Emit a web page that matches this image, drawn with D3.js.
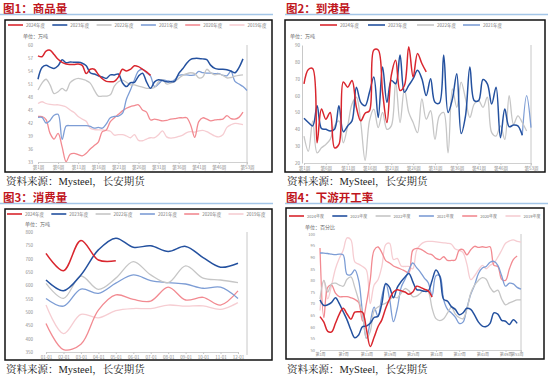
<!DOCTYPE html>
<html><head><meta charset="utf-8">
<script src="https://cdn.jsdelivr.net/npm/d3@7"></script>
<style>body{margin:0;background:#fff}svg{display:block}</style>
</head><body><svg id="c" width="550" height="379"></svg>
<script>
// ---------- shared ----------
const years = ["2024年度","2023年度","2022年度","2021年度","2020年度","2019年度"];
const colors = ["#d9262e","#24519f","#c6c6c6","#7d9dd5","#f28a91","#f6cdd2"];

// ---------- 图1 商品量 (weekly, 万吨) ----------
const p1Weeks = [1,6,11,16,21,26,31,36,41,46,53];
const p1Y = [33,36,39,42,45,48,51,54,57,60];
const p1_2024 = [57.5,57.3,58.6,58.8,57.8,56.7,56.0,55.6,55.5,55.5,55.6,55.3,53.4,54.4,54.4,53.2,52.2,51.6,51.5,51.6,52.6,54.4,54.0,54.4,55.2,55.0,54.4,53.8,53.0];
const p1_2023 = [52.1,54.8,55.3,54.9,54.6,55.2,56.6,55.9,56.1,56.0,56.0,55.8,55.2,53.6,53.3,52.9,52.6,52.3,53.1,53.1,53.3,51.3,50.4,51.3,51.4,52.8,53.5,51.5,50.0,51.5,52.0,51.8,51.5,51.5,51.6,53.4,54.5,55.8,56.7,56.9,56.9,56.8,56.6,55.3,54.6,54.4,54.4,54.3,54.0,53.6,54.8,56.8];
const p1_2022 = [49.6,51.2,52.1,50.8,48.8,49.2,50.0,49.4,51.3,52.0,52.3,52.1,51.8,51.2,49.6,48.2,48.2,48.2,48.5,50.5,51.5,51.9,51.4,50.8,50.8,50.5,50.3,50.0,50.0,50.2,51.5,52.0,51.0,51.2,51.6,52.3,53.0,53.4,53.6,53.4,52.4,52.6,54.4,53.6,53.1,53.3,53.0,52.4,52.5,52.8,53.0,53.1];
const p1_2021 = [43.3,43.3,42.0,42.6,43.8,44.0,38.2,41.3,41.4,41.4,41.4,41.4,41.4,41.2,40.8,41.0,40.8,41.8,43.2,43.5,43.6,44.2,47.5,49.6,52.0,54.0,54.4,53.6,52.8,50.4,51.0,51.9,51.8,51.6,52.0,53.0,53.1,53.1,53.0,53.1,53.9,53.6,53.5,53.5,53.4,53.4,53.0,52.9,53.9,51.6,51.0,50.4,49.5];
const p1_2020 = [43.5,43.5,42.8,39.6,38.3,39.6,36.5,33.1,34.8,35.0,34.7,34.4,35.0,36.0,36.8,37.6,40.0,40.4,42.3,43.2,44.0,44.8,45.4,45.8,46.0,46.2,45.0,44.5,42.7,42.9,42.7,42.5,42.6,42.9,43.0,43.2,43.2,43.2,41.5,38.7,42.3,43.2,42.9,42.5,42.7,42.8,42.9,43.7,43.0,42.9,43.3,44.5];
const p1_2019 = [46.5,46.9,46.5,46.3,46.2,46.2,46.0,45.7,45.0,44.4,43.5,42.9,42.4,40.8,40.5,40.4,40.4,40.3,40.1,39.2,39.3,39.3,39.0,38.6,39.3,38.0,37.9,38.3,38.6,38.6,39.3,40.2,38.8,38.5,38.6,38.9,39.2,39.8,40.0,39.9,40.2,40.3,40.0,39.5,39.0,38.8,39.3,41.0,41.6,41.9,41.8,41.6];

// ---------- 图2 到港量 (weekly, 万吨) ----------
const p2Weeks = [1,6,11,16,21,26,31,36,41,46,53];
const p2Y = [20,30,40,50,60,70,80,90];
const p2_2024 = [67,75.5,76,32,52,46,50,29,31,68,65,69,53,45,49.5,51,87,87,62,44,72,81,63,66,89,71,85,79,74];
const p2_2023 = [46.5,44,42,54,40.5,40,39,40,54,38.5,42,45,65,56,54,62,71,47,77,56,69,67,84,62,66,70,75,70,60,70,56,55.5,84,50,58,73,37.5,48,77,57,57,69.5,67,55,65,35,52,41.5,42.5,42,36.5];
const p2_2022 = [36,27,45,26,29,31,34,42,45,32,42,55,59,44,21.5,45,52,41,50,40,42,68,44,64,50,44,38,58,46,51,34,48,50,26,64,53,68,58,47,55,57,53,59,38,36,42,34,60,43,48,44,39];
const p2_2021Start = 51;
const p2_2021 = [36.5,60,41];

// ---------- 图3 消费量 (monthly, 万吨) ----------
const p3Months = [1,2,3,4,5,6,7,8,9,10,11,12];
const p3Y = [350,400,450,500,550,600,650,700,750,800];
const p3_2024 = [720,655,768,695,692];
const p3_2023 = [620,580,639,733,777,743,748,727,746,704,668,683];
const p3_2022 = [607,551,635,585,627,689,639,610,673,627,620,610];
const p3_2021 = [551,522,586,570,608,639,618,610,605,589,593,551];
const p3_2020 = [457,359,379,507,564,547,541,593,545,555,526,579];
const p3_2019 = [526,419,491,478,505,513,513,526,522,523,510,535];

// ---------- 图4 下游开工率 (weekly, %) ----------
const p4Weeks = [1,7,13,19,25,31,37,43,49,53];
const p4Y = [50,55,60,65,70,75,80,85,90,95,100];
const p4_2024 = [64.4,62,58,57.8,61.5,65.5,68,65.5,63.3,66.3,66.5,66.3,59,51.5,55.5,60,63,68,72,75,76,75.5,75,74,75,77.5,77,76.2,75.5,72.8];
const p4_2023 = [71.6,69.2,69.5,70.5,72.5,70,66.5,63,58.6,55.3,56.5,60.1,60.3,61.5,64,64.5,70,78.5,77,72.5,77,79.5,81.5,83,79.5,76,75.8,75.3,75.5,80,84.5,81.7,71.8,71,68.7,67.5,65.2,66,68,67.5,65,62,60.3,60.1,61.5,66,65.5,62.8,62.4,61,63,61.5];
const p4_2022 = [72,80,75,78.5,78.8,78,77.5,80.5,81.5,77,71.5,66,55,58,67,68.5,69.5,70.2,71.5,73,72.5,74.5,76.5,75.5,73,73.2,74.5,76,75.2,68,63.5,62.7,63.5,66,68.5,65.5,64,63.5,67.5,74.5,78,80,81.2,80.5,77,75,75.8,72,69.5,70.3,71,71.6,71.6];
const p4_2021 = [91.8,91.8,91.6,91.3,91.1,91.3,91.0,82.5,82.5,84.5,80,66,55,62,68.5,64.5,73,78.8,72,62.2,68,77,80.5,84.5,87.5,85.5,83.5,81,79,73.5,82,82,71.6,67.5,66,64.2,61.5,62,68,74,78,83,85.3,86,87.8,88.2,86.5,82,77.5,78.8,78.5,77,76.2];
const p4_2020 = [94,64,77,78,74.5,73,73,73,72.5,71.8,70.5,62.5,70,80.3,93,94.4,92,88.5,87.5,86.2,85.5,84.8,84,83.3,93,93.8,93.5,92.5,91.5,91,89.5,89,90.2,88.6,88.6,88.8,93,93.3,91,93.2,94.7,94.2,94.5,94.2,94.5,86.5,86,80.5,80,85,89,90.5];
const p4_2019 = [67,80,72,78,85,89.5,93,98.3,97.5,88,87,86,84.5,70,78,80.3,86,95.4,96,89,89.5,86.2,86,86,85,93,95.4,96.5,96.8,96.8,96.6,96.4,96.2,96,95.6,93.5,93,92,87,80.3,82,84.5,86.5,85,86.5,87.5,90,93,96,97,97.5,96.8,96.5];

// ---------- drawing ----------
const svg = d3.select("#c");
const CJK = "'Noto Sans CJK SC','Noto Sans',sans-serif";
const SRC = "'Liberation Serif','Noto Serif CJK SC','Noto Sans CJK SC',serif";
const weekFmt = w => `第${w}周`;
const monthFmt = m => `${String(m).padStart(2,"0")}-01`;

function drawPanel(c){
  const g = svg.append("g");
  // title
  g.append("text").attr("x",c.tx).attr("y",c.ty).text(c.title)
    .attr("font-family",CJK).attr("font-weight","bold").attr("font-size",11.5).attr("fill","#c0161d");
  g.append("line").attr("x1",c.lx0).attr("x2",c.lx1).attr("y1",c.ly).attr("y2",c.ly)
    .attr("stroke","#a4c6e8").attr("stroke-width",1.5);
  // frame
  const [bx0,by0,bx1,by1] = c.box;
  g.append("rect").attr("x",bx0).attr("y",by0).attr("width",bx1-bx0).attr("height",by1-by0)
    .attr("fill","#fff").attr("stroke","#111").attr("stroke-width",1.5);
  // source
  g.append("text").attr("x",c.sx).attr("y",c.sy).text(c.source)
    .attr("font-family",SRC).attr("font-size",10.5).attr("fill","#222");
  // scales
  const x = d3.scaleLinear().domain(c.xDomain).range(c.xRange);
  const y = d3.scaleLinear().domain(c.yDomain).range(c.yRange);
  // y labels
  const ya = g.append("g").attr("transform",`translate(${c.yAxisX},0)`)
    .call(d3.axisLeft(y).tickValues(c.yTicks).tickSize(0).tickPadding(2));
  ya.select(".domain").attr("stroke", c.leftLine ? "#c8c8c8" : "none");
  ya.selectAll("text").attr("font-family",CJK).attr("font-size",c.fs).attr("fill","#8a8a8a");
  // x axis
  const xa = g.append("g").attr("transform",`translate(0,${c.yRange[0]})`)
    .call(d3.axisBottom(x).tickValues(c.xTicks).tickFormat(c.xFmt).tickSize(2).tickPadding(1.5));
  xa.select(".domain").attr("stroke","#d0d0d0");
  xa.selectAll(".tick line").attr("stroke","#c8c8c8");
  xa.selectAll("text").attr("font-family",CJK).attr("font-size",c.fs).attr("fill","#8a8a8a");
  if (c.lastLabelEnd) {
    xa.selectAll(".tick text").filter(d => d === c.xTicks[c.xTicks.length-1])
      .attr("text-anchor","end").attr("dx",2);
  }
  // right axis line
  g.append("line").attr("x1",c.rightX).attr("x2",c.rightX).attr("y1",c.yRange[1]).attr("y2",c.yRange[0]+3)
    .attr("stroke","#c8c8c8").attr("stroke-width",1);
  // unit
  g.append("text").attr("x",c.ux).attr("y",c.uy).text(c.unit)
    .attr("font-family",CJK).attr("font-size",5).attr("fill","#666");
  // series
  const line = d3.line().defined(d=>d!=null).x(d=>x(d.k)).y(d=>y(d.v)).curve(d3.curveCatmullRom.alpha(0.5));
  c.series.slice().reverse().forEach(s=>{
    const pts = s.data.map((v,i)=>({k:(s.start||c.xDomain[0])+i, v}));
    g.append("path").attr("d",line(pts)).attr("fill","none")
      .attr("stroke",s.color).attr("stroke-width",s.w||1.3).attr("stroke-linejoin","round");
  });
  // legend
  c.series.forEach((s,i)=>{
    const lx = c.legX[i];
    g.append("line").attr("x1",lx).attr("x2",lx+c.legLen).attr("y1",c.legY).attr("y2",c.legY)
      .attr("stroke",s.color).attr("stroke-width",1.6);
    g.append("text").attr("x",lx+c.legLen+3).attr("y",c.legY+1.7).text(s.name)
      .attr("font-family",CJK).attr("font-size",c.fs).attr("fill","#777");
  });
}

const evenLeg = (x0,step,n)=>d3.range(n).map(i=>x0+i*step);

drawPanel({
  title:"图1：商品量", tx:3, ty:12.5, lx0:0, lx1:273, ly:14.5,
  box:[5,20,272,172], sx:6, sy:184.5, source:"资料来源：Mysteel，长安期货",
  xDomain:[1,53], xRange:[38,247], xTicks:p1Weeks, xFmt:weekFmt,
  yDomain:[33,60], yRange:[162,45], yTicks:p1Y, yAxisX:35, leftLine:false, rightX:247,
  unit:"单位：万吨", ux:23, uy:38, fs:4.5,
  legX:evenLeg(8,44.3,6), legLen:15, legY:25,
  series:[
    {name:years[0],color:colors[0],data:p1_2024,w:1.5},
    {name:years[1],color:colors[1],data:p1_2023,w:1.5},
    {name:years[2],color:colors[2],data:p1_2022},
    {name:years[3],color:colors[3],data:p1_2021},
    {name:years[4],color:colors[4],data:p1_2020},
    {name:years[5],color:colors[5],data:p1_2019}]
});

drawPanel({
  title:"图2：到港量", tx:286, ty:12.5, lx0:285, lx1:548, ly:14.5,
  box:[285,20,545,172], sx:287, sy:184.5, source:"资料来源：MySteel，长安期货",
  xDomain:[1,53], xRange:[304,531], xTicks:p2Weeks, xFmt:weekFmt,
  yDomain:[20,90], yRange:[163,45], yTicks:p2Y, yAxisX:302, leftLine:true, rightX:531,
  unit:"单位：万吨", ux:290, uy:38, fs:4.5,
  legX:[320,368,417,463], legLen:17, legY:25,
  series:[
    {name:years[0],color:colors[0],data:p2_2024,w:1.5},
    {name:years[1],color:colors[1],data:p2_2023,w:1.5},
    {name:years[2],color:colors[2],data:p2_2022},
    {name:years[3],color:colors[3],data:p2_2021,start:p2_2021Start}]
});

drawPanel({
  title:"图3：消费量", tx:3, ty:201.5, lx0:0, lx1:273, ly:203.5,
  box:[5,209,272,360], sx:6, sy:373, source:"资料来源：Mysteel，长安期货",
  xDomain:[1,12], xRange:[46,238], xTicks:p3Months, xFmt:monthFmt,
  yDomain:[350,800], yRange:[352,232], yTicks:p3Y, yAxisX:35, leftLine:false, rightX:247,
  unit:"单位：万吨", ux:25, uy:226, fs:4.5,
  legX:evenLeg(7,44.3,6), legLen:15, legY:214,
  series:[
    {name:years[0],color:colors[0],data:p3_2024,w:1.5},
    {name:years[1],color:colors[1],data:p3_2023,w:1.5},
    {name:years[2],color:colors[2],data:p3_2022},
    {name:years[3],color:colors[3],data:p3_2021},
    {name:years[4],color:colors[4],data:p3_2020},
    {name:years[5],color:colors[5],data:p3_2019}]
});

drawPanel({
  title:"图4：下游开工率", tx:286, ty:201.5, lx0:285, lx1:548, ly:203.5,
  box:[286,208,544,359], sx:287, sy:373, source:"资料来源：MySteel，长安期货",
  xDomain:[1,53], xRange:[320,521], xTicks:p4Weeks, xFmt:weekFmt, lastLabelEnd:true,
  yDomain:[50,100], yRange:[350,234], yTicks:p4Y, yAxisX:317, leftLine:false, rightX:521,
  unit:"单位：百分比", ux:305, uy:229, fs:4,
  legX:evenLeg(289,43.3,6), legLen:15, legY:216,
  series:[
    {name:years[0],color:colors[0],data:p4_2024,w:1.5},
    {name:years[1],color:colors[1],data:p4_2023,w:1.5},
    {name:years[2],color:colors[2],data:p4_2022},
    {name:years[3],color:colors[3],data:p4_2021},
    {name:years[4],color:colors[4],data:p4_2020},
    {name:years[5],color:colors[5],data:p4_2019}]
});
</script></body></html>
